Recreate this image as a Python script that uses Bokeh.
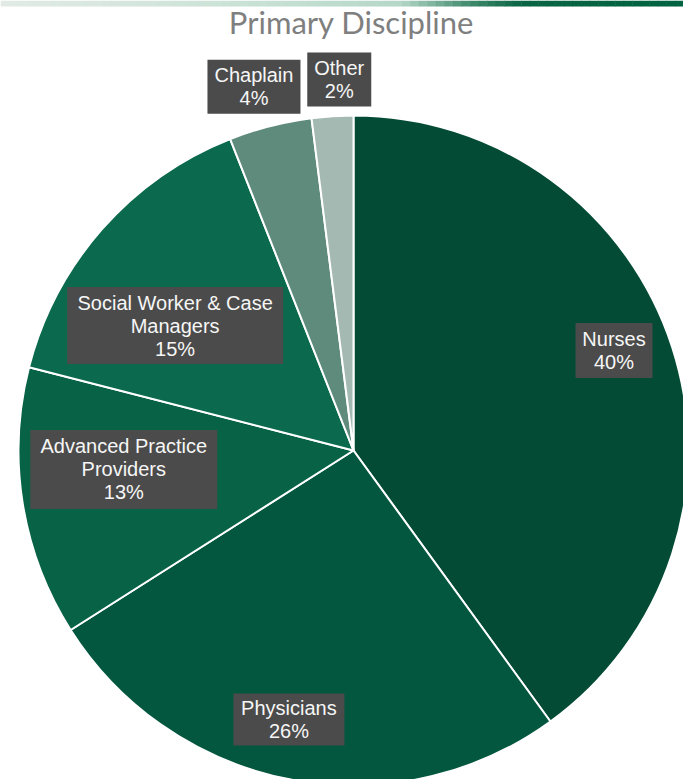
import numpy as np
from bokeh.plotting import figure
from bokeh.models import Range1d, ColumnDataSource
from bokeh.embed import file_html
from bokeh.resources import INLINE
from bokeh.core.properties import value

# ---- data ----
categories = ["Nurses", "Physicians", "Advanced Practice\nProviders",
              "Social Worker & Case\nManagers", "Chaplain", "Other"]
percent = [40, 26, 13, 15, 4, 2]
title = "Primary Discipline"

# ---- styles / layout ----
colors = ["#034b35", "#04573f", "#086245", "#0b6a4e", "#5f8b7c", "#a3b9b1"]
label_r = [0.833, 0.826, 0.688, 0.65, 1.126, 1.108]      # radial position of label (fraction of R)
label_nudge = [-3.0, 2.7, 4.3, -6.4, -0.9, 1.4]           # degrees from slice mid-angle
box_w = [77, 111, 187, 216, 93, 64]
box_h = [55, 52, 79, 77, 54, 54]

W, H = 683, 779
CX, CY_SCREEN, R = 353, 450, 335
CY = H - CY_SCREEN

vals = np.array(percent, dtype=float)
frac = vals / vals.sum()
cum = np.concatenate([[0.0], np.cumsum(frac)])
start = np.pi / 2 - 2 * np.pi * cum[:-1]
end = np.pi / 2 - 2 * np.pi * cum[1:]
mid_deg = 360 * (cum[:-1] + cum[1:]) / 2 + np.array(label_nudge)
lx = CX + R * np.array(label_r) * np.sin(np.radians(mid_deg))
ly = CY + R * np.array(label_r) * np.cos(np.radians(mid_deg))

src = ColumnDataSource(dict(
    cat=categories, pct=percent, start=start, end=end, color=colors,
    lx=lx, ly=ly, bw=box_w, bh=box_h,
    text=[f"{c}\n{p}%" for c, p in zip(categories, percent)],
))

p = figure(width=W, height=H, x_range=Range1d(0, W), y_range=Range1d(0, H),
           output_backend="svg", toolbar_location=None, min_border=0,
           x_axis_type=None, y_axis_type=None)
p.grid.visible = False
p.outline_line_color = None
p.background_fill_color = "white"
p.border_fill_color = "white"

# top decorative gradient bar
stops_x = [0, 250, 400, 470, 520, 683]
stops_c = [(0xe2, 0xeb, 0xe6), (0xc9, 0xe2, 0xd6), (0xb5, 0xd8, 0xc8),
           (0x3f, 0x8a, 0x6c), (0x0b, 0x66, 0x45), (0x00, 0x63, 0x41)]
n = 80
xs = np.linspace(0, W, n + 1)
seg_l, seg_r, seg_c = [], [], []
for i in range(n):
    xm = (xs[i] + xs[i + 1]) / 2
    c = [int(np.interp(xm, stops_x, [s[k] for s in stops_c])) for k in range(3)]
    seg_l.append(xs[i]); seg_r.append(xs[i + 1] + 0.5)
    seg_c.append("#%02x%02x%02x" % tuple(c))
p.quad(left=seg_l, right=seg_r, bottom=H - 6, top=H, fill_color=seg_c, line_color=None)

p.wedge(x=CX, y=CY, radius=R, start_angle="start", end_angle="end", direction="clock",
        fill_color="color", line_color="white", line_width=2, source=src)

p.rect(x="lx", y="ly", width="bw", height="bh", fill_color="#4b4b4b",
       line_color=None, source=src)
p.text(x="lx", y="ly", text="text", text_font=value("Liberation Sans"),
       text_font_size="20px", text_color="#f6f6f6", text_align="center",
       text_baseline="middle", text_line_height=1.05, source=src)

p.text(x=[351], y=[H - 21], text=[title], text_font=value("Lato"),
       text_font_size="31px", text_color="#7f7f7f", text_align="center",
       text_baseline="alphabetic")

open("out.html", "w").write(file_html(p, INLINE))
